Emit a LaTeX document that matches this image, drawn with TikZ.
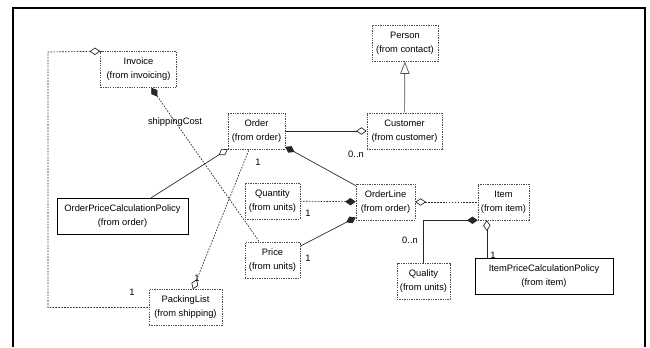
\documentclass[tikz,border=0pt]{standalone}
\usepackage{fontspec}
\setmainfont{Liberation Sans}
\usepackage{tikz}
\usetikzlibrary{arrows.meta}

\tikzset{
    cls/.style={draw=black!70, dash pattern={on 1pt off 0.8pt}, fill=white, align=center,
        inner sep=1pt, minimum height=27pt, font=\fontsize{7}{10.5}\selectfont},
    clssolid/.style={cls, draw=black, solid},
    assoc/.style={draw=black!85, line width=0.5pt},
    dep/.style={assoc, dash pattern={on 1.2pt off 1pt}},
    agg/.style={{Diamond[open, length=8pt, width=5.5pt]}-},
    comp/.style={{Diamond[length=8pt, width=5.5pt]}-},
    gen/.style={-{Triangle[open, length=9pt, width=7pt]}},
    mult/.style={font=\fontsize{7}{8}\selectfont, inner sep=0.75pt}
}

\begin{document}
\begin{tikzpicture}[x=0.75pt,y=0.75pt,yscale=-1,xscale=1]
    \useasboundingbox (0,0) rectangle (650,347);

    %Frame
    \draw [line width=1pt] (13,347) -- (13,8) -- (645,8) -- (645,347) ;

    % Classes
    \node [cls, minimum width=57pt] (invoice) at (138.5,69.5) {Invoice\\(from invoicing)};
    \node [cls, minimum width=42.75pt] (order) at (256.5,131) {Order\\(from order)};
    \node [cls, minimum width=49.5pt] (person) at (405,43.5) {Person\\(from contact)};
    \node [cls, minimum width=56.25pt] (customer) at (404.5,131) {Customer\\(from customer)};
    \node [clssolid, minimum width=98.25pt] (orderPolicy) at (122.5,216) {OrderPriceCalculationPolicy\\(from order)};
    \node [cls, minimum width=41.25pt] (quantity) at (272.5,201) {Quantity\\(from units)};
    \node [cls, minimum width=41.25pt] (price) at (272.5,260.5) {Price\\(from units)};
    \node [cls, minimum width=54.75pt] (packingList) at (185.5,307.5) {PackingList\\(from shipping)};
    \node [cls, minimum width=44.25pt] (orderLine) at (385.5,202) {OrderLine\\(from order)};
    \node [cls, minimum width=38.25pt] (item) at (503.5,202) {Item\\(from item)};
    \node [cls, minimum width=39.75pt] (quality) at (423.5,281.5) {Quality\\(from units)};
    \node [clssolid, minimum width=103.5pt] (itemPolicy) at (544,276.5) {ItemPriceCalculationPolicy\\(from item)};

    \coordinate (invoiceBend) at (48,52);

    %Connectors
    \draw [dep, agg] (invoice.north west) -- (invoiceBend) |- (packingList.west) ;
    \draw [dep, comp] (invoice) -- (price) ;
    \draw [assoc, agg] (customer) -- (order) ;
    \draw [assoc, draw=black!70, gen] (customer) -- (person) ;
    \draw [assoc, comp] (order) -- (orderLine) ;
    \draw [assoc, agg] (order) -- (orderPolicy) ;
    \draw [dep, agg] (packingList) -- (order) ;
    \draw [dep, comp] (orderLine) -- (quantity) ;
    \draw [assoc, comp] (orderLine) -- (price) ;
    \draw [dep, agg] (orderLine) -- (item) ;
    \draw [assoc, comp] (item.south west) -| (quality.north) ;
    \draw [assoc, agg] ([xshift=-12.5pt]item.south) -- ([xshift=-12.5pt]item.south |- itemPolicy.north) ;

    % Text Node
    \node [mult] (costLbl) at (175,122) {shippingCost};
    % Text Node
    \node [mult] (orderOne) at (258,162) {1};
    % Text Node
    \node [mult] (custMany) at (356,154) {0..n};
    % Text Node
    \node [mult] (packOne) at (197,278) {1};
    % Text Node
    \node [mult] (invOne) at (132,292) {1};
    % Text Node
    \node [mult] (qtyOne) at (308,213) {1};
    % Text Node
    \node [mult] (priceOne) at (308,258) {1};
    % Text Node
    \node [mult] (qualMany) at (410,240) {0..n};
    % Text Node
    \node [mult] (policyOne) at (493,255) {1};
\end{tikzpicture}
\end{document}
